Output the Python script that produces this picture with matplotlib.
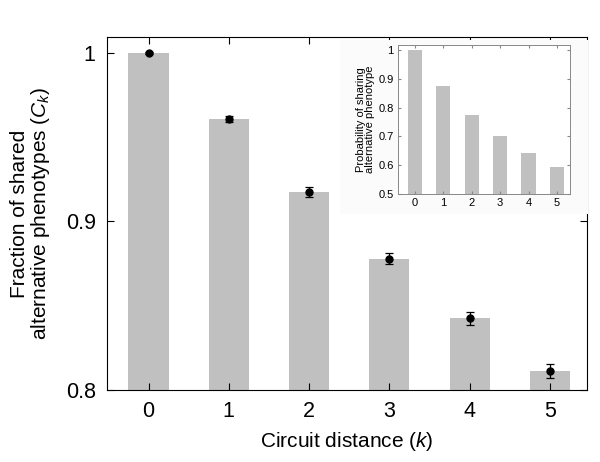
import numpy as np
import matplotlib
matplotlib.use('Agg')
import matplotlib.pyplot as plt
from matplotlib.patches import Rectangle

plt.rcParams['font.family'] = ['Liberation Sans', 'DejaVu Sans']
plt.rcParams['mathtext.fontset'] = 'custom'
plt.rcParams['mathtext.it'] = 'Liberation Sans:italic'
plt.rcParams['mathtext.rm'] = 'Liberation Sans'

# Main panel: fraction of shared alternative phenotypes
k = [0, 1, 2, 3, 4, 5]
frac_shared = [1.0, 0.961, 0.9175, 0.878, 0.8425, 0.8110]
frac_err = [0.0005, 0.0018, 0.0028, 0.0033, 0.0040, 0.0042]

# Inset: probability of sharing alternative phenotype
prob_shared = [1.0, 0.875, 0.775, 0.700, 0.643, 0.595]

bar_colour = '#c0c0c0'

fig = plt.figure(figsize=(6, 4.62), dpi=100)
ax = fig.add_axes([0.178, 0.156, 0.80, 0.764])
ax.bar(k, frac_shared, width=0.5, color=bar_colour, zorder=1)
ax.errorbar(k, frac_shared, yerr=frac_err, fmt='o', color='black',
            markersize=5, capsize=3, elinewidth=0.9, capthick=0.9, zorder=3)
ax.set_xlim(-0.52, 5.46)
ax.set_ylim(0.8, 1.0095)
ax.set_xticks(k)
ax.set_yticks([0.8, 0.9, 1.0])
ax.set_yticklabels(['0.8', '0.9', '1'])
ax.tick_params(direction='in', top=True, right=True, labelsize=15.5, length=5, pad=8)
ax.set_xlabel('Circuit distance ($k$)', fontsize=15, labelpad=6)
ax.set_ylabel('Fraction of shared\nalternative phenotypes ($C_k$)', fontsize=15,
              labelpad=10, linespacing=1.0)

# faint background behind the inset
fig.patches.append(Rectangle((340 / 600, 1 - 214 / 462), 248 / 600, 174 / 462,
                             transform=fig.transFigure, facecolor='#fbfbfb',
                             edgecolor='none', zorder=2))

ins = fig.add_axes([0.663, 0.580, 0.287, 0.3225])
ins.set_zorder(3)
ins.bar(k, prob_shared, width=0.5, color=bar_colour)
ins.set_xlim(-0.6, 5.46)
ins.set_ylim(0.5, 1.0175)
ins.set_xticks(k)
ins.set_yticks([0.5, 0.6, 0.7, 0.8, 0.9, 1.0])
ins.set_yticklabels(['0.5', '0.6', '0.7', '0.8', '0.9', '1'])
ins.tick_params(direction='in', top=True, right=True, labelsize=8, length=2,
                pad=3, color='#888888')
for s in ins.spines.values():
    s.set_color('#888888')
    s.set_linewidth(0.7)
ins.set_ylabel('Probability of sharing\nalternative phenotype', fontsize=8,
               labelpad=2, linespacing=0.95)

fig.savefig('out.png', dpi=100)
